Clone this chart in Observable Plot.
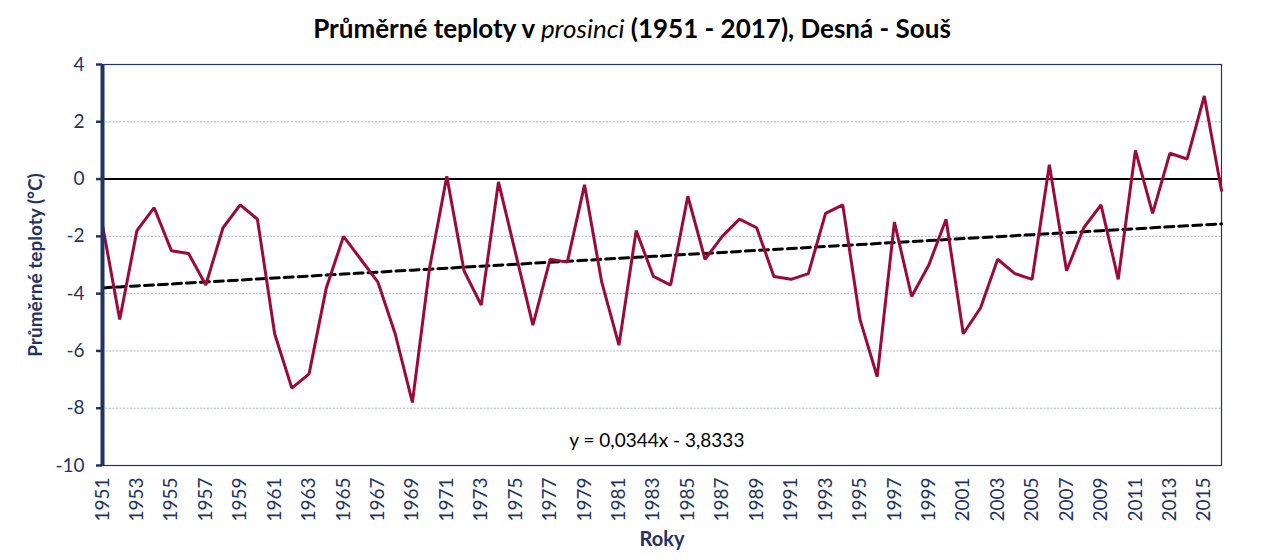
<!DOCTYPE html>
<html>
<head>
<meta charset="utf-8">
<script src="https://cdn.jsdelivr.net/npm/d3@7"></script>
<script src="https://cdn.jsdelivr.net/npm/@observablehq/plot@0.6"></script>
<style>
  html, body { margin: 0; padding: 0; background: #fff; }
  #title { height: 50px; line-height: 56px; text-align: center; font-family: Lato, "Open Sans", sans-serif; font-weight: bold; font-size: 26px; color: #000; }
  #chart svg { display: block; }
</style>
</head>
<body>
<div id="title">Průměrné teploty v <i style="font-weight:normal">prosinci</i> (1951 - 2017), Desná - Souš</div>
<div id="chart"></div>
<script>
const years = d3.range(1951, 2017);
const temps = [
  -1.6, -4.9, -1.8, -1.0, -2.5, -2.6, -3.7, -1.7, -0.9, -1.4,
  -5.4, -7.3, -6.8, -3.8, -2.0, -2.8, -3.6, -5.4, -7.8, -3.1,
   0.1, -3.2, -4.4, -0.1, -2.6, -5.1, -2.8, -2.9, -0.2, -3.6,
  -5.8, -1.8, -3.4, -3.7, -0.6, -2.8, -2.0, -1.4, -1.7, -3.4,
  -3.5, -3.3, -1.2, -0.9, -4.9, -6.9, -1.5, -4.1, -3.0, -1.4,
  -5.4, -4.5, -2.8, -3.3, -3.5,  0.5, -3.2, -1.7, -0.9, -3.5,
   1.0, -1.2,  0.9,  0.7,  2.9, -0.4
];
const xTicks = d3.range(1951, 2016, 2);
const yTicks = [4, 2, 0, -2, -4, -6, -8, -10];
const gridValues = [2, -2, -4, -6, -8];
const trendSlope = 0.0344;
const trendIntercept = -3.8333;
const trendLabel = "y = 0,0344x - 3,8333";
const yTitle = "Průměrné teploty (°C)";
const xTitle = "Roky";

const data = years.map((y, i) => ({year: y, t: temps[i]}));
const trend = years.map((y, i) => ({year: y, t: trendSlope * (i + 1) + trendIntercept}));

const navy = "#1f3462";
const chart = Plot.plot({
  width: 1264,
  height: 510,
  marginTop: 14,
  marginBottom: 95,
  marginLeft: 102,
  marginRight: 43,
  style: {fontFamily: "Lato, 'Open Sans', sans-serif", fontSize: "20px", color: navy, background: "#fff"},
  x: {domain: [1951, 2016]},
  y: {domain: [-10, 4]},
  marks: [
    Plot.ruleY(gridValues, {stroke: "#aab3cc", strokeWidth: 1, strokeDasharray: "2,1.5"}),
    Plot.ruleY([0], {stroke: "#000", strokeWidth: 2}),
    Plot.frame({stroke: navy, strokeWidth: 1.2}),
    Plot.line(trend, {x: "year", y: "t", stroke: "#000", strokeWidth: 3, strokeDasharray: "9,5"}),
    Plot.line(data, {x: "year", y: "t", stroke: "#9c0a3c", strokeWidth: 3, strokeLinejoin: "miter"}),
    Plot.ruleX([1951], {stroke: navy, strokeWidth: 4}),
    Plot.axisY({ticks: yTicks, tickSize: 6, tickPadding: 12, stroke: navy, strokeWidth: 2.5, fill: navy, fontSize: 19, label: null, tickFormat: d => String(d)}),
    Plot.axisX({ticks: xTicks, tickSize: 0, tickPadding: 12, tickRotate: -90, tickFormat: d => String(d), fill: navy, fontSize: 19, label: null}),
    Plot.text([trendLabel], {x: 1983.2, y: -9.15, fill: "#000", fontSize: 19, textAnchor: "middle"}),
    Plot.text([yTitle], {frameAnchor: "left", dx: -67, rotate: -90, textAnchor: "middle", fontWeight: "bold", fontSize: 19, fill: navy}),
    Plot.text([xTitle], {frameAnchor: "bottom", dy: 80, fontWeight: "bold", fontSize: 20, fill: navy})
  ]
});
document.getElementById("chart").appendChild(chart);
</script>
</body>
</html>
